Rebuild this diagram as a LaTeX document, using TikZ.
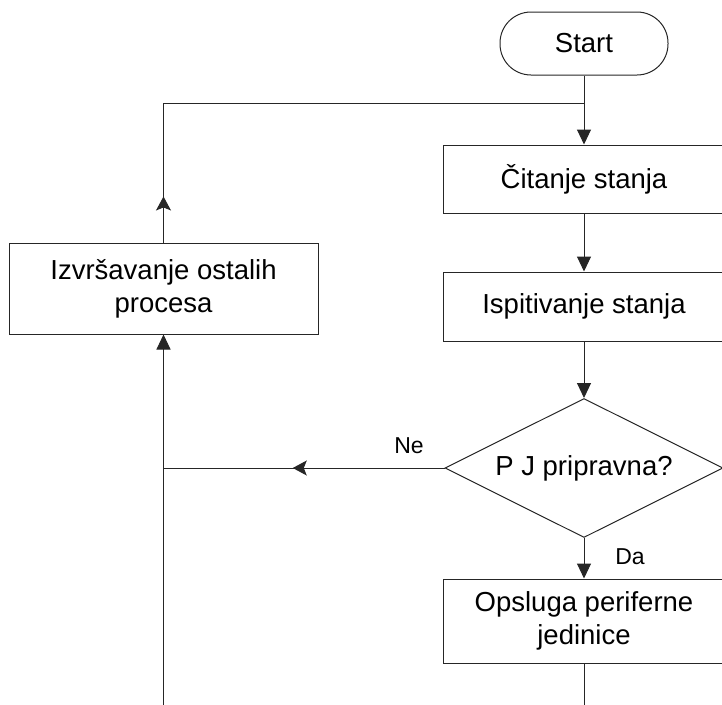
\documentclass[tikz,border=0pt]{standalone}
\usepackage{fontspec}
\setmainfont{Liberation Sans}
\usetikzlibrary{arrows.meta,shapes.geometric,decorations.markings}

\tikzset{
  base/.style={draw=black!85, line width=1pt, font=\fontsize{27.5}{33}\selectfont,
               align=center, inner sep=0pt},
  terminal/.style={base, rectangle, rounded corners=31pt, minimum width=168pt, minimum height=63pt},
  process/.style={base, rectangle, minimum width=282pt},
  decision/.style={base, diamond, shape aspect=2, minimum width=278pt, minimum height=139pt},
  flow/.style={draw=black!85, line width=1pt},
  endarrow/.style={flow, -{Triangle[length=15pt,width=14pt]}},
  midarrow/.style={flow, postaction={decorate},
    decoration={markings, mark=at position #1 with {\arrow{Stealth[length=14pt,width=15pt,inset=3pt]}}}},
  answer/.style={font=\fontsize{23}{27}\selectfont, inner sep=0pt}
}

\begin{document}
\begin{tikzpicture}[x=1pt,y=-1pt]
  \useasboundingbox (0,0) rectangle (722,704);

  % main column
  \node[terminal] (start) at (584,43.5) {Start};
  \node[process, minimum height=68pt] (cit) at (584,179) {Čitanje stanja};
  \node[process, minimum height=69pt] (isp) at (584,306.5) {Ispitivanje stanja};
  \node[decision] (dec) at (584,468) {P J pripravna?};
  \node[process, minimum height=84pt] (ops) at (584,621) {Opsluga periferne\\jedinice};

  % side process
  \node[base, rectangle, minimum width=309pt, minimum height=91pt] (izv) at (163.5,288.5)
    {Izvršavanje ostalih\\procesa};

  % branch labels
  \node[answer] (ne) at (409,446) {Ne};
  \node[answer] (da) at (630,557) {Da};

  % routing points
  \coordinate (tl) at (163.5,103);
  \coordinate (tr) at (584,103);
  \coordinate (jl) at (163.5,468);
  \coordinate (bl) at (163.5,720);
  \coordinate (br) at (584,720);

  % main flow
  \draw[endarrow] (start.south) -- (cit.north);
  \draw[endarrow] (cit.south) -- (isp.north);
  \draw[endarrow] (isp.south) -- (dec.north);
  \draw[endarrow] (dec.south) -- (ops.north);
  \draw[flow] (ops.south) -- (br);

  % "Ne" branch and loop back
  \draw[midarrow=0.54] (dec.west) -- (jl);
  \draw[endarrow] (bl) -- (izv.south);
  \draw[midarrow=0.33] (izv.north) -- (tl);
  \draw[flow] (tl) -- (tr);
\end{tikzpicture}
\end{document}
